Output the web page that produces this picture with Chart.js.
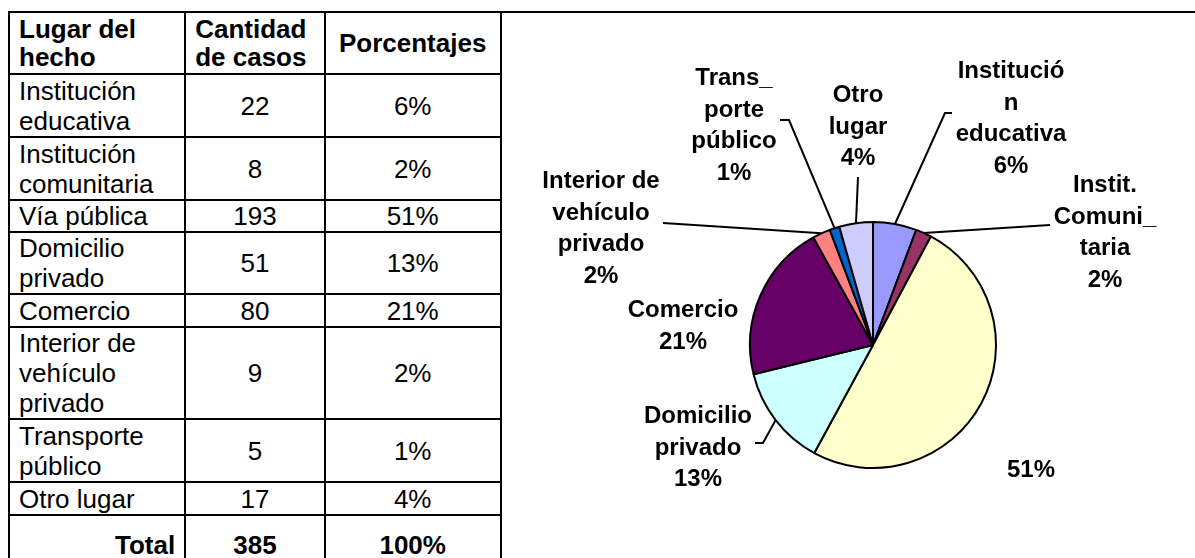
<!DOCTYPE html>
<html>
<head>
<meta charset="utf-8">
<script src="https://cdn.jsdelivr.net/npm/chart.js@4.4.1/dist/chart.umd.min.js"></script>
<style>
  html, body { margin:0; padding:0; background:#fff; width:1195px; height:558px; overflow:hidden; }
  #tbl { position:absolute; left:8px; top:11px; border-collapse:collapse; table-layout:fixed;
         font-family:"Liberation Sans", Arial, sans-serif; font-size:26px; line-height:30px; color:#000; }
  #tbl td { border:2px solid #000; padding:0 9px; vertical-align:middle; overflow:hidden; }
  #tbl td.c { text-align:center; }
  #tbl td.b { font-weight:bold; }
  #tbl td.r { text-align:right; }
  #tbl td.h { line-height:28px; }
  #chart { position:absolute; left:0; top:0; }
</style>
</head>
<body>
<table id="tbl">
  <colgroup><col style="width:177px"><col style="width:140px"><col style="width:176px"><col style="width:720px"></colgroup>
  <tbody id="tb"></tbody>
</table>
<canvas id="chart" width="1195" height="558"></canvas>
<script>
// ---- data ----
const categories = ['Institución educativa', 'Institución comunitaria', 'Vía pública', 'Domicilio privado',
                    'Comercio', 'Interior de vehículo privado', 'Transporte público', 'Otro lugar'];
const cases = [22, 8, 193, 51, 80, 9, 5, 17];
const percents = ['6%', '2%', '51%', '13%', '21%', '2%', '1%', '4%'];
const totalCases = '385';
const totalPercent = '100%';
const headers = ['Lugar del hecho', 'Cantidad de casos', 'Porcentajes'];
const pieLabelLines = [['Institució', 'n', 'educativa'], ['Instit.', 'Comuni_', 'taria'], [],
                       ['Domicilio', 'privado'], ['Comercio'], ['Interior de', 'vehículo', 'privado'],
                       ['Trans_', 'porte', 'público'], ['Otro', 'lugar']];
const sliceColors = ['#9999FF', '#993366', '#FFFFCC', '#CCFFFF', '#660066', '#FF8080', '#0066CC', '#CCCCFF'];

// ---- table ----
const rowHeights = [62, 63, 63, 32, 62, 33, 92, 63, 33, 60];
const tb = document.getElementById('tb');
function mkRow(h) { const tr = document.createElement('tr'); tr.style.height = h + 'px'; tb.appendChild(tr); return tr; }
function mkCell(tr, text, cls) { const td = document.createElement('td'); td.textContent = text; if (cls) td.className = cls; tr.appendChild(td); return td; }
let tr = mkRow(rowHeights[0]);
mkCell(tr, headers[0], 'b h');
mkCell(tr, headers[1], 'b h');
mkCell(tr, headers[2], 'b c h');
const big = document.createElement('td');
big.rowSpan = 10; big.style.borderRight = 'none'; big.style.borderBottom = 'none';
tr.appendChild(big);
categories.forEach((c, i) => {
  const r = mkRow(rowHeights[i + 1]);
  mkCell(r, c, '');
  mkCell(r, String(cases[i]), 'c');
  mkCell(r, percents[i], 'c');
});
tr = mkRow(rowHeights[9]);
mkCell(tr, 'Total', 'b r');
mkCell(tr, totalCases, 'b c');
mkCell(tr, totalPercent, 'b c');

// ---- pie labels plugin ----
const labelPlugin = {
  id: 'pieLabels',
  afterDatasetsDraw(chart, args, opts) {
    const ctx = chart.ctx;
    const meta = chart.getDatasetMeta(0);
    ctx.save();
    ctx.font = 'bold 24px "Liberation Sans", Arial, sans-serif';
    ctx.fillStyle = '#000';
    ctx.strokeStyle = '#000';
    ctx.lineWidth = 2;
    ctx.textAlign = 'center';
    ctx.textBaseline = 'alphabetic';
    meta.data.forEach((arc, i) => {
      const L = opts.layout[i];
      const p = arc.getProps(['x', 'y', 'startAngle', 'endAngle', 'outerRadius'], true);
      const mid = (p.startAngle + p.endAngle) / 2;
      if (L.leader && L.leader.length) {
        ctx.beginPath();
        ctx.moveTo(p.x + Math.cos(mid) * p.outerRadius, p.y + Math.sin(mid) * p.outerRadius);
        L.leader.forEach(q => ctx.lineTo(q[0], q[1]));
        ctx.stroke();
      }
      const lines = pieLabelLines[i].concat([percents[i]]);
      lines.forEach((t, k) => ctx.fillText(t, L.x, L.y + k * opts.lineGap));
    });
    ctx.restore();
  }
};

new Chart(document.getElementById('chart'), {
  type: 'pie',
  data: {
    labels: categories,
    datasets: [{ data: cases, backgroundColor: sliceColors, borderColor: '#000', borderWidth: 2 }]
  },
  options: {
    responsive: false,
    animation: false,
    devicePixelRatio: 1,
    layout: { padding: { left: 749, right: 198, top: 221, bottom: 89 } },
    plugins: {
      legend: { display: false },
      tooltip: { enabled: false },
      pieLabels: {
        lineGap: 31.5,
        layout: [
          { x: 1011, y: 78,  leader: [[945, 113], [952, 113]] },
          { x: 1105, y: 192, leader: [[1050, 225]] },
          { x: 1031, y: 477, leader: [] },
          { x: 698,  y: 423, leader: [[763, 443], [755, 443]] },
          { x: 683,  y: 317, leader: [] },
          { x: 601,  y: 188, leader: [[663, 223]] },
          { x: 734,  y: 85,  leader: [[789, 120], [780, 120]] },
          { x: 858,  y: 102, leader: [[858, 177]] }
        ]
      }
    }
  },
  plugins: [labelPlugin]
});
</script>
</body>
</html>
